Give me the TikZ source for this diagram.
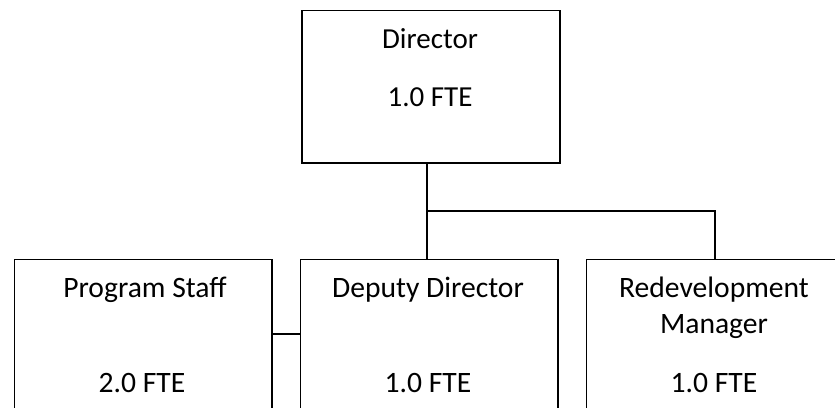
\documentclass[tikz,border=0pt]{standalone}
\usepackage{fontspec}
\setmainfont{Carlito}
\begin{document}
\begin{tikzpicture}[x=1pt,y=-1pt,
  box/.style={draw=black,line width=1.8pt,rectangle,inner sep=0pt,anchor=north west},
  txt/.style={anchor=base,inner sep=0pt,font=\fontsize{29.6}{36}\selectfont},
  conn/.style={draw=black,line width=1.8pt}]
\useasboundingbox (0,0) rectangle (835,407);
\clip (0,0) rectangle (835,407);
% boxes
\node[box,minimum width=258pt,minimum height=152.5pt] (dir) at (301,9.5) {};
\node[box,minimum width=257.5pt,minimum height=200pt] (prog) at (13.5,258.5) {};
\node[box,minimum width=257.5pt,minimum height=200pt] (dep) at (299.5,258.5) {};
\node[box,minimum width=257.5pt,minimum height=200pt] (red) at (585.5,258.5) {};
% texts
\node[txt,font=\fontsize{29}{35}\selectfont] (dirt1) at (430,48) {Director};
\node[txt,font=\fontsize{29}{35}\selectfont] (dirt2) at (430,106) {1.0 FTE};
\node[txt] (progt1) at (145,297) {Program Staff};
\node[txt] (progt2) at (142,392) {2.0 FTE};
\node[txt] (dept1) at (428,297) {Deputy Director};
\node[txt] (dept2) at (428,392) {1.0 FTE};
\node[txt] (redt1) at (714,297) {Redevelopment};
\node[txt] (redt2) at (714,333) {Manager};
\node[txt] (redt3) at (714,392) {1.0 FTE};
% connectors
\coordinate (j) at (427,211);
\coordinate (h) at (285,334);
\draw[conn] (j |- dir.south) -- (j |- dep.north);
\draw[conn] (j) -| (red.north);
\draw[conn] (prog.east |- h) -- (dep.west |- h);
\end{tikzpicture}
\end{document}
